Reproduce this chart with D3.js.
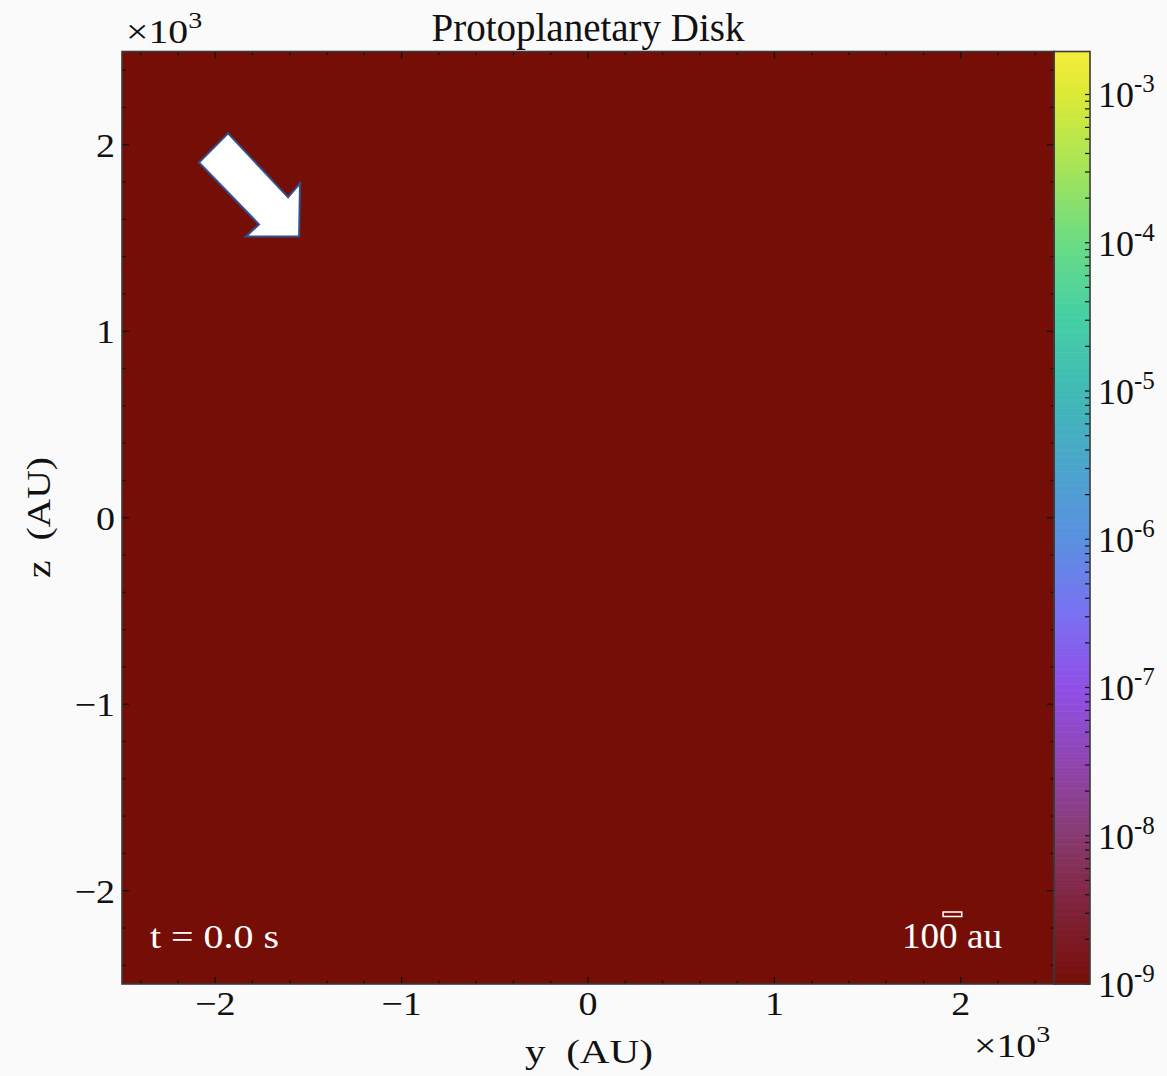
<!DOCTYPE html>
<html>
<head>
<meta charset="utf-8">
<script src="https://cdn.jsdelivr.net/npm/d3@7"></script>
<style>
  body { margin: 0; background: #fafafa; }
  svg { display: block; font-family: "Liberation Serif", "DejaVu Serif", serif; }
</style>
</head>
<body>
<div id="chart-container"></div>
<script>
// density grid (single uniform cell at t = 0)
const cellEdgesY = [-2.5, 2.5];
const cellEdgesZ = [-2.5, 2.5];
const density = [[1e-9]];

const xTicks = [-2, -1, 0, 1, 2];
const yTicks = [-2, -1, 0, 1, 2];
const cbDecades = [-9, -8, -7, -6, -5, -4, -3];
const cbDomain = [1e-9, 1.95e-3];

// colormap stops (log10 of density -> colour)
const cmapLogs = [-9, -8.5, -8, -7.5, -7, -6.5, -6, -5.5, -5, -4.5, -4, -3.5, -3, -2.71];
const cmapColors = ["#760e08", "#7f2238", "#883a70", "#9045b0", "#9050e8", "#7a70f2", "#5a90e0",
                    "#4aa5cc", "#40bab5", "#45cfa5", "#6adc84", "#a5e458", "#dcea35", "#f5ec3a"];

// arrow annotation in data units
const arrowY = [-1.931, -1.609, -1.545, -1.550, -1.835, -1.765, -2.087];
const arrowZ = [2.061, 1.718, 1.793, 1.508, 1.508, 1.573, 1.905];

const scaleBarAU = 100;

const W = 1167, H = 1076;
const plot = { left: 122, top: 51.5, right: 1054, bottom: 984 };
const cbar = { left: 1054, right: 1090 };

const svg = d3.select("#chart-container")
    .append("svg")
    .attr("width", W)
    .attr("height", H);

const xScale = d3.scaleLinear().domain([-2.5, 2.5]).range([plot.left, plot.right]);
const yScale = d3.scaleLinear().domain([-2.5, 2.5]).range([plot.bottom, plot.top]);
const cbScale = d3.scaleLog().domain(cbDomain).range([plot.bottom, plot.top]);

const logMin = Math.log10(cbDomain[0]), logMax = Math.log10(cbDomain[1]);
const colorScale = d3.scaleLinear()
    .domain(cmapLogs)
    .range(cmapColors)
    .interpolate(d3.interpolateRgb)
    .clamp(true);
const colorOf = v => colorScale(Math.log10(v));

// heatmap cells
const cells = [];
density.forEach((row, j) => row.forEach((v, i) => cells.push({ i, j, v })));
svg.append("g").selectAll("rect")
    .data(cells)
    .enter()
    .append("rect")
    .attr("x", d => xScale(cellEdgesY[d.i]))
    .attr("y", d => yScale(cellEdgesZ[d.j + 1]))
    .attr("width", d => xScale(cellEdgesY[d.i + 1]) - xScale(cellEdgesY[d.i]))
    .attr("height", d => yScale(cellEdgesZ[d.j]) - yScale(cellEdgesZ[d.j + 1]))
    .attr("fill", d => colorOf(d.v));

// colorbar gradient
const steps = d3.range(0, 400);
svg.append("g").selectAll("rect")
    .data(steps)
    .enter()
    .append("rect")
    .attr("x", cbar.left)
    .attr("width", cbar.right - cbar.left)
    .attr("y", s => plot.top + (plot.bottom - plot.top) * s / steps.length)
    .attr("height", (plot.bottom - plot.top) / steps.length + 0.6)
    .attr("fill", s => colorScale(logMax - (logMax - logMin) * (s + 0.5) / steps.length));

// inward ticks on all sides
const minor = d3.range(-2.4, 2.41, 0.2).map(v => +v.toFixed(1));
const tickG = svg.append("g").attr("stroke", "#111").attr("stroke-width", 1.3);
function addTicks(vals, len) {
    vals.forEach(v => {
        const x = xScale(v), y = yScale(v);
        tickG.append("line").attr("x1", x).attr("x2", x).attr("y1", plot.bottom).attr("y2", plot.bottom - len);
        tickG.append("line").attr("x1", x).attr("x2", x).attr("y1", plot.top).attr("y2", plot.top + len);
        tickG.append("line").attr("y1", y).attr("y2", y).attr("x1", plot.left).attr("x2", plot.left + len);
        tickG.append("line").attr("y1", y).attr("y2", y).attr("x1", plot.right).attr("x2", plot.right - len);
    });
}
addTicks(minor.filter(v => !xTicks.includes(v)), 3.5);
addTicks(xTicks, 7);

// colorbar ticks
const cbTickVals = [];
cbDecades.forEach(k => d3.range(1, 10).forEach(m => {
    const v = m * Math.pow(10, k);
    if (v >= cbDomain[0] && v <= cbDomain[1]) cbTickVals.push(v);
}));
svg.append("g").selectAll("line")
    .data(cbTickVals)
    .enter()
    .append("line")
    .attr("x1", cbar.right)
    .attr("x2", cbar.right - 5)
    .attr("y1", d => cbScale(d))
    .attr("y2", d => cbScale(d))
    .attr("stroke", "#111")
    .attr("stroke-width", 1.2);

// frames
svg.append("rect")
    .attr("x", plot.left).attr("y", plot.top)
    .attr("width", plot.right - plot.left).attr("height", plot.bottom - plot.top)
    .attr("fill", "none").attr("stroke", "#3a3a3a").attr("stroke-width", 1.6);
svg.append("rect")
    .attr("x", cbar.left).attr("y", plot.top)
    .attr("width", cbar.right - cbar.left).attr("height", plot.bottom - plot.top)
    .attr("fill", "none").attr("stroke", "#3a3a3a").attr("stroke-width", 1.6);

const fmt = v => (v < 0 ? "\u2212" : "") + Math.abs(v);
const stretch = 1.12;

// x tick labels
svg.append("g").selectAll("text")
    .data(xTicks)
    .enter()
    .append("text")
    .attr("transform", d => `translate(${xScale(d)},1015) scale(${stretch},1)`)
    .attr("text-anchor", "middle")
    .style("font-size", "34px")
    .attr("fill", "#111")
    .text(fmt);

// y tick labels
svg.append("g").selectAll("text")
    .data(yTicks)
    .enter()
    .append("text")
    .attr("transform", d => `translate(115,${yScale(d) + 12}) scale(${stretch},1)`)
    .attr("text-anchor", "end")
    .style("font-size", "34px")
    .attr("fill", "#111")
    .text(fmt);

// colorbar labels
const cbLabels = svg.append("g").selectAll("text")
    .data(cbDecades)
    .enter()
    .append("text")
    .attr("x", 1098)
    .attr("y", d => cbScale(Math.pow(10, d)) + 13)
    .style("font-size", "36px")
    .attr("fill", "#111");
cbLabels.append("tspan").text("10");
cbLabels.append("tspan").attr("dy", -15).style("font-size", "25px").text(d => d);

// exponent markers
function expMarker(x, y) {
    const t = svg.append("text")
        .attr("transform", `translate(${x},${y}) scale(1.17,1)`)
        .style("font-size", "34px").attr("fill", "#111");
    t.append("tspan").text("\u00d710");
    t.append("tspan").attr("dy", -15).style("font-size", "24px").text("3");
}
expMarker(126, 43);
expMarker(974, 1057);

// title and axis labels
svg.append("text")
    .attr("x", 588).attr("y", 41)
    .attr("text-anchor", "middle")
    .style("font-size", "39px")
    .attr("fill", "#111")
    .text("Protoplanetary Disk");

svg.append("text")
    .attr("x", 525).attr("y", 1063)
    .attr("textLength", 128)
    .attr("lengthAdjust", "spacingAndGlyphs")
    .style("font-size", "33px")
    .style("white-space", "pre")
    .attr("fill", "#111")
    .text("y  (AU)");

svg.append("text")
    .attr("transform", `translate(50, 578) rotate(-90)`)
    .attr("textLength", 121)
    .attr("lengthAdjust", "spacingAndGlyphs")
    .style("font-size", "34px")
    .style("white-space", "pre")
    .attr("fill", "#111")
    .text("z  (AU)");

// annotations
svg.append("text")
    .attr("x", 150).attr("y", 948)
    .attr("textLength", 129)
    .attr("lengthAdjust", "spacingAndGlyphs")
    .style("font-size", "34px")
    .style("white-space", "pre")
    .attr("fill", "#fff")
    .text("t = 0.0 s");

const barY = 1.905;
svg.append("rect")
    .attr("x", xScale(barY))
    .attr("y", 912)
    .attr("width", xScale(barY + scaleBarAU / 1000) - xScale(barY))
    .attr("height", 4.5)
    .attr("fill", "none")
    .attr("stroke", "#fff")
    .attr("stroke-width", 1.5);
svg.append("text")
    .attr("x", 902).attr("y", 948)
    .attr("textLength", 100)
    .attr("lengthAdjust", "spacingAndGlyphs")
    .style("font-size", "35px")
    .style("white-space", "pre")
    .attr("fill", "#fff")
    .text("100 au");

svg.append("path")
    .attr("d", d3.line().x(d => xScale(d[0])).y(d => yScale(d[1]))(arrowY.map((v, i) => [v, arrowZ[i]])) + "Z")
    .attr("fill", "#fff")
    .attr("stroke", "#2f528f")
    .attr("stroke-width", 2)
    .attr("stroke-linejoin", "miter");
</script>
</body>
</html>
